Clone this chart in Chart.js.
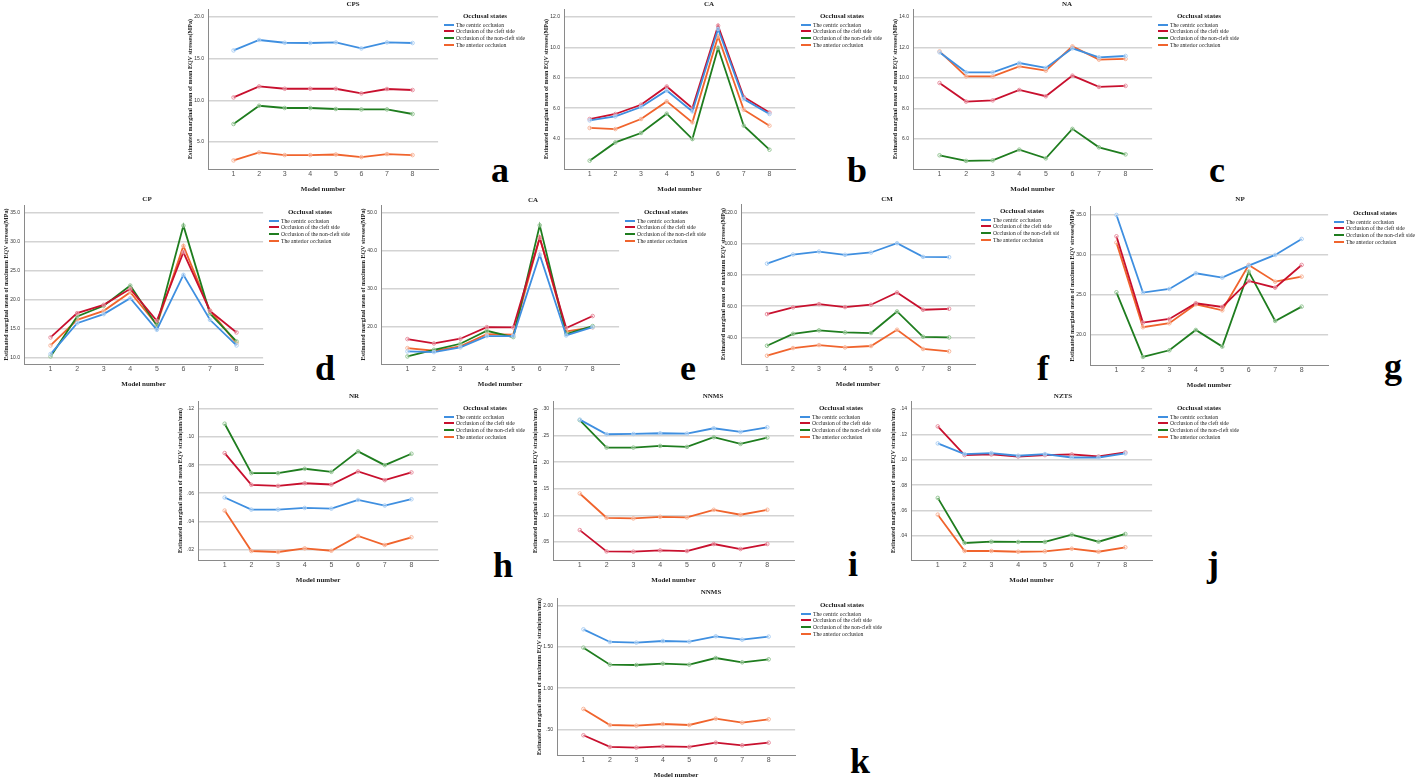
<!DOCTYPE html>
<html>
<head>
<meta charset="utf-8">
<title>Estimated marginal means by model number</title>
<script src="https://cdn.jsdelivr.net/npm/chart.js@4.4.1/dist/chart.umd.min.js"></script>
<style>
    html, body { margin: 0; padding: 0; background: #fff; }
    #page { position: relative; width: 1416px; height: 780px; overflow: hidden; background: #fff; }
    canvas { position: absolute; }
    .ptitle { position: absolute; transform: translate(-50%, -50%); font: bold 7px "Liberation Serif", serif; color: #222; white-space: nowrap; }
    .letter { position: absolute; transform: translateX(-50%); font: bold 36px/36px "Liberation Serif", serif; color: #000; }
    .legend { position: absolute; overflow: hidden; height: 50px; }
    .legend .ltitle { position: absolute; left: 41px; top: 6.5px; transform: translate(-50%, -50%); font: bold 7px "Liberation Serif", serif; color: #222; white-space: nowrap; }
    .legend .lline { position: absolute; left: 0; width: 10px; height: 2px; }
    .legend .ltext { position: absolute; left: 12px; transform: translateY(-50%); font: 5.6px "Liberation Serif", serif; color: #222; white-space: nowrap; }
</style>
</head>
<body>
<div id="page"></div>
<script>
// Model numbers on the x axis
const models = [1, 2, 3, 4, 5, 6, 7, 8];
const seriesNames = [
    "The centric occlusion",
    "Occlusion of the cleft side",
    "Occlusion of the non-cleft side",
    "The anterior occlusion"
];

// a - CPS, mean EQV stresses
const cpsCentric = [15.99, 17.24, 16.91, 16.88, 16.95, 16.23, 16.95, 16.88];
const cpsCleft = [10.35, 11.67, 11.39, 11.39, 11.39, 10.83, 11.36, 11.24];
const cpsNonCleft = [7.16, 9.35, 9.08, 9.08, 8.96, 8.91, 8.91, 8.36];
const cpsAnterior = [2.79, 3.75, 3.43, 3.43, 3.50, 3.19, 3.55, 3.43];
const cpsTicks = [5, 10, 15, 20];

// b - CA, mean EQV stresses
const caMeanCentric = [5.20, 5.46, 6.08, 7.17, 5.79, 11.21, 6.60, 5.62];
const caMeanCleft = [5.29, 5.62, 6.23, 7.43, 6.01, 11.43, 6.74, 5.72];
const caMeanNonCleft = [2.55, 3.75, 4.37, 5.64, 3.97, 9.96, 4.85, 3.27];
const caMeanAnterior = [4.70, 4.63, 5.29, 6.45, 5.07, 10.72, 5.90, 4.85];
const caMeanTicks = [4, 6, 8, 10, 12];

// c - NA, mean EQV stresses
const naCentric = [11.68, 10.37, 10.37, 10.98, 10.66, 11.94, 11.35, 11.44];
const naCleft = [9.67, 8.45, 8.53, 9.21, 8.80, 10.15, 9.41, 9.48];
const naNonCleft = [4.93, 4.56, 4.60, 5.30, 4.73, 6.66, 5.45, 4.99];
const naAnterior = [11.74, 10.10, 10.10, 10.76, 10.48, 12.07, 11.20, 11.25];
const naTicks = [6, 8, 10, 12, 14];

// d - CP, maximum EQV stresses
const cpCentric = [10.58, 15.93, 17.49, 20.25, 14.78, 24.29, 16.51, 12.07];
const cpCleft = [13.46, 17.66, 19.10, 21.87, 16.34, 28.20, 18.06, 14.32];
const cpNonCleft = [10.17, 17.09, 18.93, 22.44, 15.53, 32.81, 17.60, 12.77];
const cpAnterior = [12.07, 16.51, 18.06, 21.29, 15.65, 29.30, 18.12, 12.48];
const cpTicks = [10, 15, 20, 25, 30, 35];

// e - CA, maximum EQV stresses
const caMaxCentric = [13.37, 13.20, 14.43, 17.43, 17.43, 38.97, 17.60, 19.81];
const caMaxCleft = [16.64, 15.49, 16.73, 19.81, 19.73, 43.38, 19.55, 22.73];
const caMaxNonCleft = [12.05, 13.81, 15.40, 18.84, 17.17, 46.73, 17.96, 20.08];
const caMaxAnterior = [14.25, 13.55, 14.70, 17.96, 17.78, 43.56, 18.67, 19.73];
const caMaxTicks = [20, 30, 40, 50];

// f - CM, maximum EQV stresses
const cmCentric = [87.2, 93.0, 94.9, 92.8, 94.3, 100.2, 91.5, 91.3];
const cmCleft = [54.9, 59.2, 61.3, 59.4, 60.9, 68.7, 57.7, 58.3];
const cmNonCleft = [34.7, 42.3, 44.5, 43.2, 42.8, 56.6, 40.4, 40.0];
const cmAnterior = [28.3, 33.2, 35.1, 33.6, 34.5, 44.9, 32.6, 31.1];
const cmTicks = [40, 60, 80, 100, 120];

// g - NP, maximum EQV stresses
const npCentric = [34.92, 25.21, 25.67, 27.63, 27.08, 28.58, 29.92, 31.92];
const npCleft = [32.25, 21.46, 21.92, 23.88, 23.42, 26.67, 25.83, 28.67];
const npNonCleft = [25.25, 17.17, 18.00, 20.54, 18.46, 27.83, 21.67, 23.46];
const npAnterior = [31.46, 20.88, 21.38, 23.75, 23.00, 28.67, 26.58, 27.21];
const npTicks = [20, 25, 30, 35];

// h - NR, mean EQV strain
const nrCentric = [0.0569, 0.0483, 0.0483, 0.0495, 0.0490, 0.0552, 0.0512, 0.0557];
const nrCleft = [0.0886, 0.0660, 0.0652, 0.0671, 0.0662, 0.0755, 0.0693, 0.0748];
const nrNonCleft = [0.1095, 0.0743, 0.0743, 0.0774, 0.0752, 0.0898, 0.0800, 0.0881];
const nrAnterior = [0.0476, 0.0188, 0.0181, 0.0207, 0.0190, 0.0295, 0.0231, 0.0286];
const nrTicks = [0.02, 0.04, 0.06, 0.08, 0.10, 0.12];

// i - NNMS, mean EQV strain
const nnmsMeanCentric = [0.2800, 0.2525, 0.2531, 0.2544, 0.2538, 0.2638, 0.2569, 0.2656];
const nnmsMeanCleft = [0.0725, 0.0325, 0.0319, 0.0344, 0.0331, 0.0463, 0.0369, 0.0463];
const nnmsMeanNonCleft = [0.2790, 0.2275, 0.2275, 0.2306, 0.2288, 0.2469, 0.2344, 0.2463];
const nnmsMeanAnterior = [0.1413, 0.0956, 0.0944, 0.0975, 0.0963, 0.1106, 0.1013, 0.1106];
const nnmsMeanTicks = [0.05, 0.10, 0.15, 0.20, 0.25, 0.30];

// j - NZTS, mean EQV strain
const nztsCentric = [0.1129, 0.1045, 0.1053, 0.1032, 0.1045, 0.1018, 0.1018, 0.1050];
const nztsCleft = [0.1263, 0.1037, 0.1042, 0.1026, 0.1037, 0.1042, 0.1026, 0.1058];
const nztsNonCleft = [0.0700, 0.0345, 0.0355, 0.0353, 0.0353, 0.0411, 0.0355, 0.0416];
const nztsAnterior = [0.0568, 0.0282, 0.0282, 0.0276, 0.0279, 0.0300, 0.0276, 0.0311];
const nztsTicks = [0.04, 0.06, 0.08, 0.10, 0.12, 0.14];

// k - NNMS, maximum EQV strain
const nnmsMaxCentric = [1.716, 1.562, 1.554, 1.574, 1.566, 1.631, 1.590, 1.627];
const nnmsMaxCleft = [0.427, 0.285, 0.277, 0.293, 0.285, 0.337, 0.305, 0.337];
const nnmsMaxNonCleft = [1.493, 1.286, 1.282, 1.298, 1.286, 1.367, 1.315, 1.351];
const nnmsMaxAnterior = [0.747, 0.552, 0.544, 0.564, 0.552, 0.629, 0.581, 0.621];
const nnmsMaxTicks = [0.5, 1.0, 1.5, 2.0];

// Line colours in series order (centric, cleft, non-cleft, anterior)
const lineColors = ["#3f8fe0", "#c8102e", "#1f7d1f", "#f0642d"];
const pointColors = ["#a8cdf3", "#e6899a", "#8fc28f", "#f7b194"];

const yTitleMeanStress = "Estimated marginal mean of mean EQV stresses(MPa)";
const yTitleMaxStress = "Estimated marginal mean of maximum EQV stresses(MPa)";
const yTitleMeanStrain = "Estimated marginal mean of mean EQV strain(mm/mm)";
const yTitleMaxStrain = "Estimated marginal mean of maximum EQV strain(mm/mm)";

// box = plot area [left, top, right, bottom] in page pixels
const panels = [
    { letter: "a", title: "CPS", yTitle: yTitleMeanStress, series: [cpsCentric, cpsCleft, cpsNonCleft, cpsAnterior], ticks: cpsTicks, dec: 1, min: 1.76, max: 20.96, box: [208, 9, 443, 169], titlePos: [353, 4], letterPos: [500, 182] },
    { letter: "b", title: "CA", yTitle: yTitleMeanStress, series: [caMeanCentric, caMeanCleft, caMeanNonCleft, caMeanAnterior], ticks: caMeanTicks, dec: 1, min: 2.0, max: 12.53, box: [564, 9, 800, 169], titlePos: [709, 4], letterPos: [857, 182] },
    { letter: "c", title: "NA", yTitle: yTitleMeanStress, series: [naCentric, naCleft, naNonCleft, naAnterior], ticks: naTicks, dec: 1, min: 4.03, max: 14.52, box: [913, 9, 1157, 169], titlePos: [1067, 4], letterPos: [1217, 182] },
    { letter: "d", title: "CP", yTitle: yTitleMaxStress, series: [cpCentric, cpCleft, cpNonCleft, cpAnterior], ticks: cpTicks, dec: 1, min: 8.86, max: 36.38, box: [24, 205, 268, 364], titlePos: [147, 199], letterPos: [325, 380] },
    { letter: "e", title: "CA", yTitle: yTitleMaxStress, series: [caMaxCentric, caMaxCleft, caMaxNonCleft, caMaxAnterior], ticks: caMaxTicks, dec: 1, min: 10.05, max: 52.1, box: [381, 205, 624, 364], titlePos: [533, 200], letterPos: [688, 380] },
    { letter: "f", title: "CM", yTitle: yTitleMaxStress, series: [cmCentric, cmCleft, cmNonCleft, cmAnterior], ticks: cmTicks, dec: 1, min: 23.0, max: 125.3, box: [741, 204, 980, 364], titlePos: [887, 199], letterPos: [1043, 380], legendWidth: 78 },
    { letter: "g", title: "NP", yTitle: yTitleMaxStress, series: [npCentric, npCleft, npNonCleft, npAnterior], ticks: npTicks, dec: 1, min: 16.16, max: 36.04, box: [1090, 206, 1333, 365], titlePos: [1240, 199], letterPos: [1393, 378] },
    { letter: "h", title: "NR", yTitle: yTitleMeanStrain, series: [nrCentric, nrCleft, nrNonCleft, nrAnterior], ticks: nrTicks, dec: 2, min: 0.0124, max: 0.1257, box: [198, 401, 443, 560], titlePos: [354, 396], letterPos: [503, 577] },
    { letter: "i", title: "NNMS", yTitle: yTitleMeanStrain, series: [nnmsMeanCentric, nnmsMeanCleft, nnmsMeanNonCleft, nnmsMeanAnterior], ticks: nnmsMeanTicks, dec: 2, min: 0.0163, max: 0.315, box: [553, 401, 799, 560], titlePos: [713, 396], letterPos: [853, 576] },
    { letter: "j", title: "NZTS", yTitle: yTitleMeanStrain, series: [nztsCentric, nztsCleft, nztsNonCleft, nztsAnterior], ticks: nztsTicks, dec: 2, min: 0.0211, max: 0.1463, box: [911, 401, 1157, 560], titlePos: [1063, 396], letterPos: [1213, 576] },
    { letter: "k", title: "NNMS", yTitle: yTitleMaxStrain, series: [nnmsMaxCentric, nnmsMaxCleft, nnmsMaxNonCleft, nnmsMaxAnterior], ticks: nnmsMaxTicks, dec: 2, min: 0.187, max: 2.097, box: [557, 598, 800, 755], titlePos: [711, 592], letterPos: [860, 773] }
];

const SERIF = '"Liberation Serif", "Times New Roman", serif';
const SANS = '"Liberation Sans", Arial, sans-serif';
const PAD_L = 2, Y_W = 21, PAD_T = 10, X_H = 24;

const page = document.querySelector("#page");

function formatTick(value, dec) {
    return value.toFixed(dec).replace(/^0\./, ".");
}

function addDiv(className, text, left, top) {
    const div = document.createElement("div");
    div.className = className;
    div.textContent = text;
    div.style.left = left + "px";
    div.style.top = top + "px";
    page.appendChild(div);
    return div;
}

function addLegend(panel) {
    const [, top, right] = panel.box;
    const legend = document.createElement("div");
    legend.className = "legend";
    legend.style.left = (right + 1) + "px";
    legend.style.top = top + "px";
    legend.style.width = (panel.legendWidth || 120) + "px";

    const title = document.createElement("div");
    title.className = "ltitle";
    title.textContent = "Occlusal states";
    legend.appendChild(title);

    seriesNames.forEach((name, i) => {
        const y = 15.5 + i * 6.7;
        const line = document.createElement("div");
        line.className = "lline";
        line.style.top = Math.round(y - 1) + "px";
        line.style.background = lineColors[i];
        legend.appendChild(line);

        const text = document.createElement("div");
        text.className = "ltext";
        text.style.top = y + "px";
        text.textContent = name;
        legend.appendChild(text);
    });
    page.appendChild(legend);
}

function drawPanel(panel) {
    const [left, top, right, bottom] = panel.box;
    const canvas = document.createElement("canvas");
    const width = right - left + Y_W + PAD_L;
    const height = bottom - top + PAD_T + X_H;
    canvas.width = width;
    canvas.height = height;
    canvas.style.left = (left - Y_W - PAD_L) + "px";
    canvas.style.top = (top - PAD_T) + "px";
    canvas.style.width = width + "px";
    canvas.style.height = height + "px";
    page.appendChild(canvas);

    const datasets = panel.series.map((values, i) => ({
        label: seriesNames[i],
        data: values.map((v, j) => ({ x: models[j], y: v })),
        borderColor: lineColors[i],
        backgroundColor: lineColors[i],
        borderWidth: 1.8,
        pointRadius: 1.8,
        pointBorderWidth: 0.9,
        pointBorderColor: pointColors[i],
        pointBackgroundColor: "rgba(255,255,255,0.35)",
        tension: 0
    }));

    new Chart(canvas, {
        type: "line",
        data: { datasets },
        options: {
            responsive: false,
            animation: false,
            devicePixelRatio: 1,
            layout: { padding: { left: PAD_L, top: PAD_T, right: 0, bottom: 0 } },
            plugins: {
                legend: { display: false },
                tooltip: { enabled: false }
            },
            scales: {
                x: {
                    type: "linear",
                    min: 0,
                    max: 9,
                    afterBuildTicks: (scale) => { scale.ticks = models.map((m) => ({ value: m })); },
                    afterFit: (scale) => { scale.height = X_H; },
                    grid: { display: false, drawTicks: false },
                    border: { color: "#8a8a8a", width: 1 },
                    ticks: {
                        padding: 1,
                        color: "#555",
                        font: { family: SANS, size: 7 },
                        callback: (value) => String(value)
                    },
                    title: {
                        display: true,
                        text: "Model number",
                        color: "#222",
                        padding: 0,
                        font: { family: SERIF, size: 7, weight: "bold" }
                    }
                },
                y: {
                    min: panel.min,
                    max: panel.max,
                    afterBuildTicks: (scale) => { scale.ticks = panel.ticks.map((t) => ({ value: t })); },
                    afterFit: (scale) => { scale.width = Y_W; },
                    grid: { color: "#d3d3d3", lineWidth: 1.5, drawTicks: false },
                    border: { color: "#8a8a8a", width: 1 },
                    ticks: {
                        padding: 4,
                        color: "#333",
                        font: { family: SANS, size: 5 },
                        callback: (value) => formatTick(value, panel.dec)
                    },
                    title: {
                        display: true,
                        text: panel.yTitle,
                        color: "#222",
                        padding: 0,
                        font: { family: SERIF, size: 6, weight: "bold" }
                    }
                }
            }
        }
    });

    addDiv("ptitle", panel.title, panel.titlePos[0], panel.titlePos[1]);
    addLegend(panel);
    addDiv("letter", panel.letter, panel.letterPos[0], panel.letterPos[1] - 30);
}

document.addEventListener("DOMContentLoaded", () => {
    if (typeof Chart === "undefined") {
        console.error("Chart.js no esta disponible.");
        return;
    }
    panels.forEach(drawPanel);
});
</script>
</body>
</html>
